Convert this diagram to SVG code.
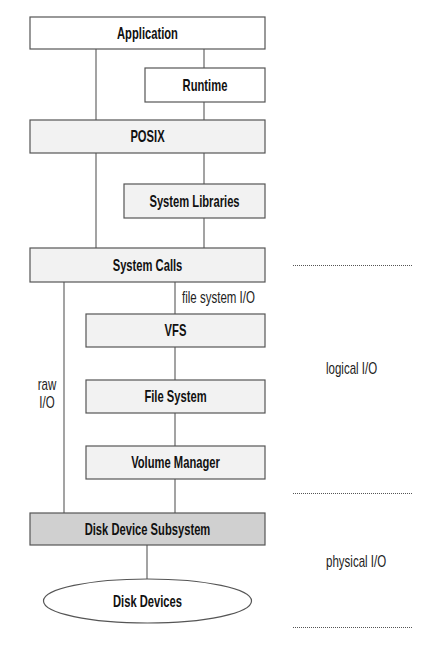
<svg xmlns="http://www.w3.org/2000/svg" width="437" height="660" viewBox="0 0 437 660">
<style>
.box{stroke:#555;stroke-width:1.2}
.w{fill:#fff}.g{fill:#f2f2f2}.d{fill:#d0d0d0}
.t{font-family:"Liberation Sans",Arial,sans-serif;font-weight:bold;font-size:16px;fill:#111;text-anchor:middle}
.l{font-family:"Liberation Sans",Arial,sans-serif;font-size:16px;fill:#222}
.m{text-anchor:middle}
.c{stroke:#666;stroke-width:1.2;fill:none}
.dot{stroke:#555;stroke-width:1;stroke-dasharray:1 1;fill:none}
</style>
<rect width="437" height="660" fill="#fff"/>
<g id="connectors">
<line class="c" x1="96" y1="49" x2="96" y2="120"/>
<line class="c" x1="204" y1="49" x2="204" y2="68"/>
<line class="c" x1="204" y1="102" x2="204" y2="120"/>
<line class="c" x1="96" y1="153" x2="96" y2="248"/>
<line class="c" x1="204" y1="153" x2="204" y2="184"/>
<line class="c" x1="204" y1="218" x2="204" y2="248"/>
<line class="c" x1="64" y1="282" x2="64" y2="513"/>
<line class="c" x1="175" y1="282" x2="175" y2="314"/>
<line class="c" x1="175" y1="347" x2="175" y2="380"/>
<line class="c" x1="175" y1="413" x2="175" y2="446"/>
<line class="c" x1="175" y1="479" x2="175" y2="513"/>
<line class="c" x1="147" y1="545" x2="147" y2="579"/>
<text class="l" transform="translate(182,302.5) scale(0.72,1)">file system I/O</text>
<text class="l m" transform="translate(47,390) scale(0.72,1)">raw</text>
<text class="l m" transform="translate(47,407.5) scale(0.72,1)">I/O</text>
</g>
<g id="application"><rect class="box w" x="30" y="17" width="235" height="32"/><text class="t" transform="translate(147.5,39) scale(0.7,1)">Application</text></g>
<g id="runtime"><rect class="box w" x="145" y="68" width="120" height="34"/><text class="t" transform="translate(205,90.5) scale(0.7,1)">Runtime</text></g>
<g id="posix"><rect class="box g" x="30" y="120" width="235" height="33"/><text class="t" transform="translate(147.5,142) scale(0.7,1)">POSIX</text></g>
<g id="syslibs"><rect class="box g" x="124" y="184" width="141" height="34"/><text class="t" transform="translate(194.5,206.5) scale(0.7,1)">System Libraries</text></g>
<g id="syscalls"><rect class="box g" x="30" y="248" width="235" height="34"/><text class="t" transform="translate(147.5,270.7) scale(0.7,1)">System Calls</text></g>
<g id="vfs"><rect class="box g" x="86" y="314" width="179" height="33"/><text class="t" transform="translate(175.5,336.2) scale(0.7,1)">VFS</text></g>
<g id="filesystem"><rect class="box g" x="86" y="380" width="179" height="33"/><text class="t" transform="translate(175.5,402.2) scale(0.7,1)">File System</text></g>
<g id="volmgr"><rect class="box g" x="86" y="446" width="179" height="33"/><text class="t" transform="translate(175.5,468.2) scale(0.7,1)">Volume Manager</text></g>
<g id="diskdev"><rect class="box d" x="30" y="513" width="235" height="32"/><text class="t" transform="translate(147.5,534.7) scale(0.7,1)">Disk Device Subsystem</text></g>
<g id="disks"><ellipse class="box w" cx="147.5" cy="601" rx="104" ry="22"/><text class="t" transform="translate(147.5,606.7) scale(0.7,1)">Disk Devices</text></g>
<g id="levels">
<line class="dot" x1="293" y1="265.5" x2="413" y2="265.5"/>
<line class="dot" x1="293" y1="493.5" x2="413" y2="493.5"/>
<line class="dot" x1="293" y1="627.5" x2="413" y2="627.5"/>
<text class="l" transform="translate(326,374) scale(0.72,1)">logical I/O</text>
<text class="l" transform="translate(326,566.5) scale(0.72,1)">physical I/O</text>
</g>
</svg>
